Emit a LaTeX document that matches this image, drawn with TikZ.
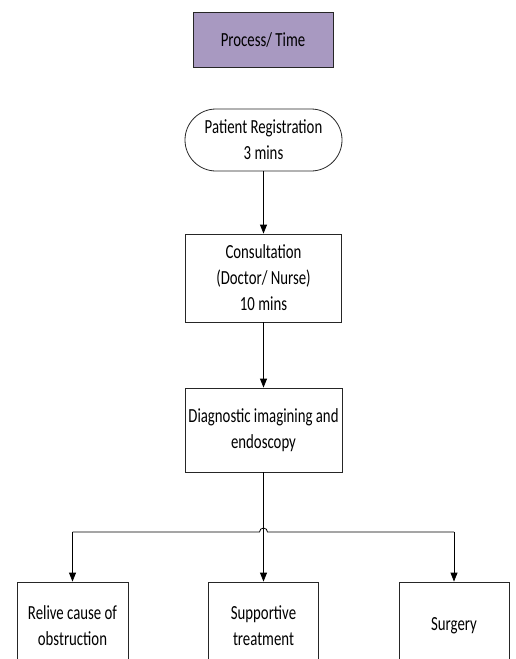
\documentclass[tikz,border=0pt]{standalone}
\usepackage{fontspec}
\setmainfont{Carlito}[FakeStretch=0.74]
\usepackage{tikz}
\usetikzlibrary{arrows.meta}

\definecolor{procfill}{RGB}{168,153,193}

\begin{document}
\begin{tikzpicture}[x=1pt,y=-1pt,
  box/.style={draw=black!85,line width=0.8pt,align=center,inner sep=2pt,
    font=\fontsize{20}{26}\selectfont},
  arr/.style={line width=0.8pt,-{Triangle[length=9pt,width=7pt]}}]
\clip (0,0) rectangle (515,659);
\node[box,fill=procfill,minimum width=140,minimum height=55]
  (title) at (263,39.5) {Process/ Time};
\node[box,rounded corners=31,minimum width=157,minimum height=62]
  (reg) at (263.5,140) {Patient Registration\\3 mins};
\node[box,minimum width=156,minimum height=88]
  (consult) at (263.5,278) {Consultation\\(Doctor/ Nurse)\\10 mins};
\node[box,minimum width=157,minimum height=84]
  (diag) at (263.5,430) {Diagnostic imagining and\\endoscopy};
\node[box,minimum width=111,minimum height=88]
  (relive) at (72.5,626) {Relive cause of\\obstruction};
\node[box,minimum width=110,minimum height=88]
  (support) at (263.5,626) {Supportive\\treatment};
\node[box,minimum width=110,minimum height=88]
  (surgery) at (454,626) {Surgery};
\coordinate (busL) at (relive.north |- 0,532);
\coordinate (busR) at (surgery.north |- 0,532);
\coordinate (hop) at (259.5,532);
\draw[arr] (reg) -- (consult);
\draw[arr] (consult) -- (diag);
\draw[arr] (diag) -- (support);
\draw[line width=0.8pt] (busL) -- (hop) arc[start angle=180,end angle=360,radius=4] -- (busR);
\draw[arr] (busL) -- (relive);
\draw[arr] (busR) -- (surgery);
\end{tikzpicture}
\end{document}
